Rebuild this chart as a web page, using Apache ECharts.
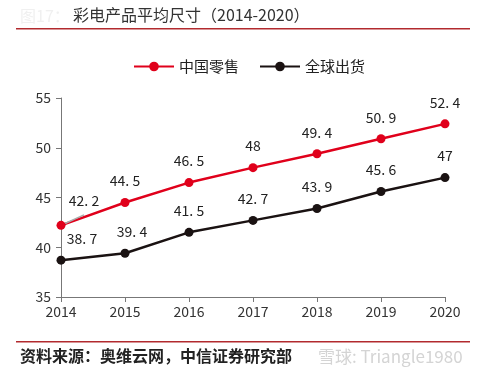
<!DOCTYPE html>
<html><head><meta charset="utf-8">
<script src="https://cdn.jsdelivr.net/npm/echarts@6/dist/echarts.min.js"></script>
<style>html,body{margin:0;padding:0;background:#fff}#c{width:480px;height:372px}</style>
</head><body><div id="c"></div>
<script>
const categories = ['2014','2015','2016','2017','2018','2019','2020'];
const chinaRetail = [42.2, 44.5, 46.5, 48, 49.4, 50.9, 52.4];
const globalShip = [38.7, 39.4, 41.5, 42.7, 43.9, 45.6, 47];
const seriesNames = ['中国零售','全球出货'];
const yTicks = [35, 40, 45, 50, 55];

const fmt = p => String(p.value).replace('.', '. ');
const chart = echarts.init(document.getElementById('c'), null, {renderer:'canvas'});
const font = '"Noto Sans CJK SC", "Noto Sans", sans-serif';
chart.setOption({
  animation:false,
  textStyle:{fontFamily:font},
  graphic:[
    {type:'text', left:20, top:8, style:{text:'图17：', fill:'#f0f0f0', font:'16px '+font}},
    {type:'text', left:73, top:7, style:{text:'彩电产品平均尺寸（2014-2020）', fill:'#333', font:'16px '+font}},
    {type:'rect', shape:{x:16, y:28, width:454, height:1.5}, style:{fill:'#b22a2e'}},
    {type:'rect', shape:{x:16, y:341, width:454, height:1.5}, style:{fill:'#b22a2e'}},
    {type:'text', left:20, top:348, style:{text:'资料来源：奥维云网，中信证券研究部', fill:'#222', font:'bold 16px '+font}},
    {type:'text', left:318, top:348, style:{text:'雪球: Triangle1980', fill:'#d4d4d4', font:'17px '+font}}
  ],
  legend:{
    top:54, left:128, itemWidth:40, itemHeight:12, itemGap:20,
    textStyle:{fontSize:15, color:'#222'},
    data:seriesNames
  },
  grid:{left:61, right:35, top:98, bottom:75},
  xAxis:{
    type:'category', data:categories, boundaryGap:false,
    axisLine:{lineStyle:{color:'#777', width:1}},
    axisTick:{show:true, alignWithLabel:true, length:5, lineStyle:{color:'#777'}},
    axisLabel:{color:'#333', fontSize:14, margin:8}
  },
  yAxis:{
    type:'value', min:35, max:55, interval:5,
    axisLine:{show:true, lineStyle:{color:'#777', width:1}},
    axisTick:{show:true, length:5, lineStyle:{color:'#777'}},
    axisLabel:{color:'#333', fontSize:14, margin:10},
    splitLine:{show:false}
  },
  series:[
    {
      name:seriesNames[0], type:'line',
      data:chinaRetail.map((v,i)=> i===0 ? {value:v, label:{offset:[23,-3]}, labelLine:{show:true, lineStyle:{color:'#aaa', width:1.5}}} : v),
      color:'#e0001b', symbol:'circle', symbolSize:9,
      lineStyle:{width:2.5, color:'#e0001b'},
      itemStyle:{color:'#e0001b'},
      label:{show:true, position:'top', distance:10, fontSize:14, color:'#222', formatter:fmt},
      labelLine:{show:false}
    },
    {
      name:seriesNames[1], type:'line',
      data:globalShip.map((v,i)=> i===0 ? {value:v, label:{offset:[21,0]}} : (i===1 ? {value:v, label:{offset:[7,0]}} : v)),
      color:'#1a1212', symbol:'circle', symbolSize:9,
      lineStyle:{width:2.5, color:'#1a1212'},
      itemStyle:{color:'#1a1212'},
      label:{show:true, position:'top', distance:10, fontSize:14, color:'#222', formatter:fmt},
      labelLine:{show:false}
    }
  ]
});
</script></body></html>
